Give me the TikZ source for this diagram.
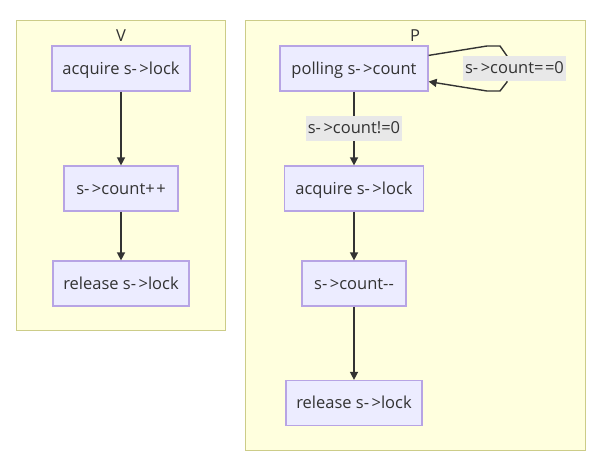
\documentclass[tikz,border=0pt]{standalone}
\usepackage{fontspec}
\setmainfont{Open Sans}[Ligatures=TeXOff]
\usetikzlibrary{arrows.meta}
\definecolor{clfill}{HTML}{FFFFDE}
\definecolor{clline}{HTML}{CCCC88}
\definecolor{ndfill}{HTML}{ECECFF}
\definecolor{ndline}{HTML}{B7A4E4}
\definecolor{edge}{HTML}{333333}
\definecolor{lblbg}{HTML}{E8E8E8}
% spaced operator glyphs
\newcommand{\arr}{-\kern2.5pt>}
\newcommand{\incr}{+\kern1.5pt+}
\newcommand{\eqeq}{=\kern1.5pt=}
\tikzset{
  cluster/.style={draw=clline, fill=clfill, line width=1.5pt},
  stepbox/.style={draw=ndline, fill=ndfill, line width=1.2pt, inner sep=0pt,
    minimum height=45pt, text=edge, text height=15pt, text depth=4pt,
    font=\fontsize{16.5}{18}\selectfont},
  flow/.style={draw=edge, line width=1.4pt, -{Triangle[length=8pt,width=8pt]}},
  elabel/.style={fill=lblbg, inner sep=0pt, text=edge, minimum height=25pt,
    text height=14pt, text depth=4pt, font=\fontsize{16.5}{18}\selectfont},
  ctitle/.style={text=edge, font=\fontsize{16.5}{18}\selectfont, inner sep=0pt}
}
\begin{document}
\begin{tikzpicture}[x=1pt,y=-1pt]
\useasboundingbox (0,0) rectangle (602,474);
% subgraph frames
\draw[cluster] (16.5,20.5) rectangle (225.5,330.5);
\draw[cluster] (245.5,20.5) rectangle (585.5,450.5);
\node[ctitle] (vtitle) at (121,36) {V};
\node[ctitle] (ptitle) at (415,36) {P};
% V chain
\node[stepbox, minimum width=138pt] (vacq) at (121,68.5) {acquire s\arr lock};
\node[stepbox, minimum width=114pt] (vinc) at (121,188.5) {s\arr count\incr};
\node[stepbox, minimum width=136pt] (vrel) at (121,283.5) {release s\arr lock};
% P chain
\node[stepbox, minimum width=148pt] (poll) at (354,68.5) {polling s\arr count};
\node[stepbox, minimum width=139pt] (pacq) at (354,188.5) {acquire s\arr lock};
\node[stepbox, minimum width=104pt] (pdec) at (354,283.5) {s\arr count--};
\node[stepbox, minimum width=136pt] (prel) at (354,403) {release s\arr lock};
% edges
\draw[flow] (vacq) -- (vinc);
\draw[flow] (vinc) -- (vrel);
\draw[flow] (poll) -- node[elabel, minimum width=96pt] (lne) {s\arr count!=0} (pacq);
\draw[flow] (pacq) -- (pdec);
\draw[flow] (pdec) -- (prel);
% self loop on polling
\coordinate (la) at (487,46);
\coordinate (lb) at (500,46);
\coordinate (lc) at (507,56);
\coordinate (ld) at (507,82);
\coordinate (le) at (500,91);
\coordinate (lf) at (487,91);
\draw[flow] ([yshift=-10pt]poll.north east) -- (la) -- (lb) -- (lc) -- (ld) -- (le) -- (lf) -- ([yshift=10pt]poll.south east);
\node[elabel, minimum width=103pt] (leq) at (514.5,68.5) {s\arr count\eqeq 0};
\end{tikzpicture}
\end{document}
